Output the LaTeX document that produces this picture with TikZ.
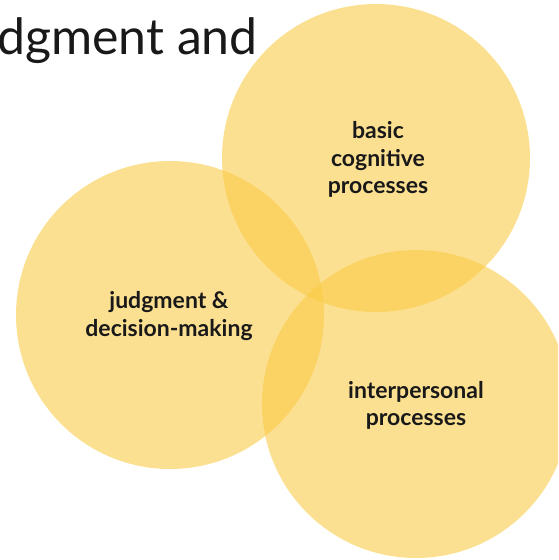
\documentclass[tikz,border=0pt]{standalone}
\usepackage{fontspec}
\setmainfont{Lato}
\definecolor{venn}{RGB}{250,202,67}
\tikzstyle{blob} = [fill=venn, fill opacity=.58, draw=none]
\tikzstyle{label} = [font=\bfseries\fontsize{23}{27.5}\selectfont, align=center, text=black!90]

\begin{document}
\begin{tikzpicture}[x=1pt,y=-1pt]
      \useasboundingbox (0,0) rectangle (558,560);
      \clip (0,0) rectangle (558,560);
      \node[anchor=base west, inner sep=0pt, font=\fontsize{50}{50}\selectfont, text=black!90] (title) at (-3,54) {dgment and};
      \fill[blob] (376,158) circle[radius=154];
      \fill[blob] (170,315) circle[radius=154];
      \fill[blob] (416,404) circle[radius=154];
      \node[label] (basic) at (378,159.5) {basic\\cognitive\\processes};
      \node[label] (judge) at (169,316) {judgment \&\\decision-making};
      \node[label] (inter) at (416,405.5) {interpersonal\\processes};
    \end{tikzpicture}
\end{document}
